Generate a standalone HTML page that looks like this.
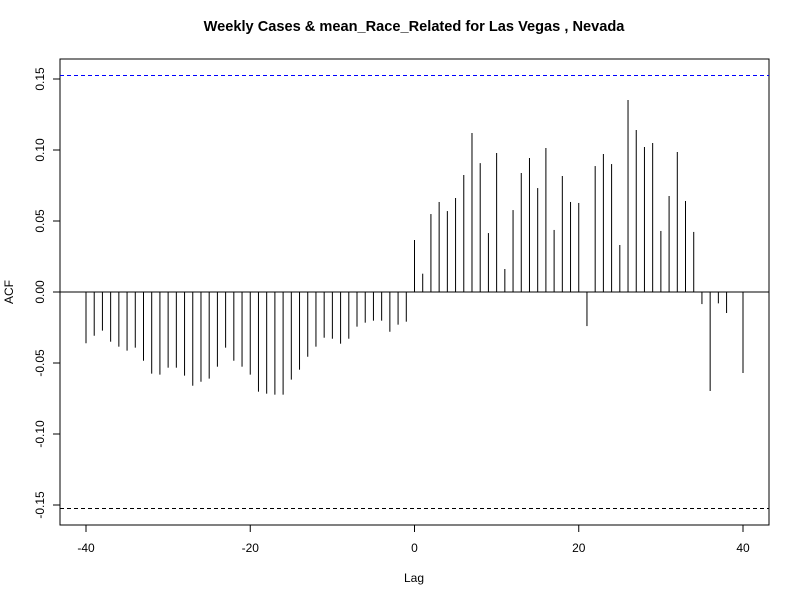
<!DOCTYPE html>
<html><head><meta charset="utf-8"><style>
body{margin:0;background:#fff;}
svg{display:block;font-family:"Liberation Sans",Arial,sans-serif;}
</style></head><body>
<svg id="chart" width="800" height="600" viewBox="0 0 800 600" xmlns="http://www.w3.org/2000/svg">
<rect width="800" height="600" fill="#fff"/>
<text x="414" y="31" text-anchor="middle" font-size="14.6" font-weight="bold">Weekly Cases &amp; mean_Race_Related for Las Vegas , Nevada</text>
<rect x="60" y="59" width="709" height="466" fill="none" stroke="#000"/>
<text x="414" y="582" text-anchor="middle" font-size="12">Lag</text>
<text transform="translate(13,292) rotate(-90)" text-anchor="middle" font-size="12">ACF</text>
<g id="xaxis"></g>
<g id="yaxis"></g>
<g id="marks"></g>
</svg>
<script>
const lags = [];
for (let k = -40; k <= 40; k++) lags.push(k);
const acfValues = [
-0.0361,-0.0308,-0.0272,-0.035,-0.0385,-0.0413,-0.0392,-0.0484,-0.0575,-0.0582,
-0.0533,-0.0533,-0.0589,-0.066,-0.0632,-0.061,-0.0526,-0.0392,-0.0484,-0.0526,
-0.0582,-0.0702,-0.0716,-0.0723,-0.0723,-0.0617,-0.0547,-0.0456,-0.0385,-0.0322,
-0.0329,-0.0364,-0.0329,-0.0244,-0.0216,-0.0202,-0.0202,-0.028,-0.023,-0.0209,
0.0366,0.0129,0.0549,0.0634,0.057,0.0662,0.0824,0.112,0.0908,0.0415,
0.0979,0.0162,0.0577,0.0838,0.0944,0.0732,0.1014,0.0437,0.0817,0.0634,
0.0627,-0.024,0.0887,0.0972,0.0901,0.0331,0.1352,0.1141,0.1021,0.1049,
0.043,0.0676,0.0986,0.0641,0.0423,-0.0085,-0.0697,-0.008,-0.0148,0.0,-0.057];
const xTicks = [-40,-20,0,20,40];
const yTicks = [-0.15,-0.10,-0.05,0.00,0.05,0.10,0.15];
const yTickLabels = ["-0.15","-0.10","-0.05","0.00","0.05","0.10","0.15"];
const ciBound = 0.1525;

const NS = "http://www.w3.org/2000/svg";
const xs = v => 414.5 + v * 8.2125;
const ys = v => 292 - v * 1420;
function mk(tag, attrs, parent){const e=document.createElementNS(NS,tag);for(const k in attrs)e.setAttribute(k,attrs[k]);parent.appendChild(e);return e;}
const xa=document.getElementById('xaxis'), ya=document.getElementById('yaxis'), mg=document.getElementById('marks');
let e = mk('line',{x1:xs(-40),x2:xs(40),y1:525,y2:525,stroke:'#000'},xa);


xTicks.forEach(t=>{
  let l=mk('line',{x1:xs(t),x2:xs(t),y1:525,y2:532,stroke:'#000'},xa);
  
  
  let tx=mk('text',{x:xs(t),y:552,'text-anchor':'middle','font-size':12},xa);
  tx.textContent=t;
  
  
});
e = mk('line',{x1:60,x2:60,y1:ys(-0.15),y2:ys(0.15),stroke:'#000'},ya);


yTicks.forEach((t,i)=>{
  let l=mk('line',{x1:53,x2:60,y1:ys(t),y2:ys(t),stroke:'#000'},ya);
  
  
  let tx=mk('text',{transform:`translate(44,${ys(t)}) rotate(-90)`,'text-anchor':'middle','font-size':12},ya);
  tx.textContent=yTickLabels[i];
  
  
});
e = mk('line',{x1:60,x2:769,y1:ys(0),y2:ys(0),stroke:'#000'},mg);


e = mk('line',{x1:60,x2:769,y1:ys(ciBound),y2:ys(ciBound),stroke:'#0000ff','stroke-dasharray':'4,3'},mg);


e = mk('line',{x1:60,x2:769,y1:ys(-ciBound),y2:ys(-ciBound),stroke:'#000','stroke-dasharray':'4,3'},mg);


lags.forEach((k,i)=>{
  let b=mk('line',{x1:xs(k),x2:xs(k),y1:ys(0),y2:ys(acfValues[i]),stroke:'#000','stroke-width':1},mg);
  
  
});
</script>
</body></html>
